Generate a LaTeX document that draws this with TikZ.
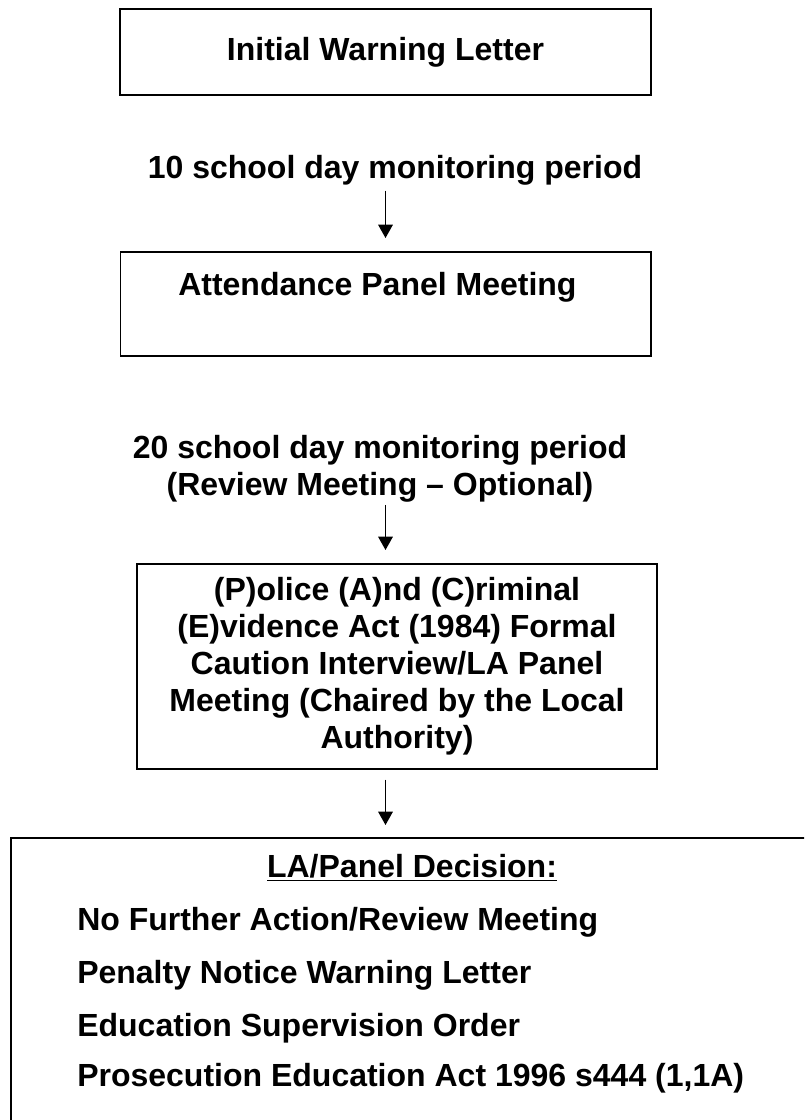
\documentclass[tikz,border=0pt]{standalone}
\usepackage{fontspec}
\setmainfont{Liberation Sans}
\usetikzlibrary{arrows.meta}

\begin{document}
\begin{tikzpicture}[x=0.75pt,y=-0.75pt]
	\tikzset{flowbox/.style={rectangle, draw, line width=1pt, inner sep=0pt}}
	\tikzset{flowtext/.style={inner sep=0pt, font=\fontsize{24}{27.75}\selectfont\bfseries}}
	\tikzset{flowarrow/.style={line width=0.8pt, -{Triangle[length=10pt, width=11pt]}}}

	\useasboundingbox (0,0) rectangle (804,1120);
	\clip (0,0) rectangle (804,1120);

	% boxes
	\node[flowbox, flowtext, line width=1.7pt, minimum width=398pt, minimum height=64.5pt] (b1) at (385.5,52) {Initial Warning Letter};
	\node[flowbox, minimum width=398pt, minimum height=78pt] (b2) at (385.5,304) {};
	\node[flowbox, flowtext, align=center, minimum width=390pt, minimum height=153.75pt] (b3) at (397,666.5)
		{(P)olice (A)nd (C)riminal\\(E)vidence Act (1984) Formal\\Caution Interview/LA Panel\\Meeting (Chaired by the Local\\Authority)};
	\node[flowbox, line width=1.5pt, anchor=north west, minimum width=620pt, minimum height=230pt] (b4) at (10,837) {};

	% texts
	\node[flowtext] (t1) at (395,170) {10 school day monitoring period};
	\node[flowtext, anchor=west] (t2) at (178,287) {Attendance Panel Meeting};
	\node[flowtext, align=center] (t3) at (380,468.5) {20 school day monitoring period\\(Review Meeting – Optional)};

	\node[flowtext] (d0) at (412,868) {\underline{LA/Panel Decision:}};
	\node[flowtext, anchor=west] (d1) at (77,922) {No Further Action/Review Meeting};
	\node[flowtext, anchor=west] (d2) at (77,975) {Penalty Notice Warning Letter};
	\node[flowtext, anchor=west] (d3) at (77,1028) {Education Supervision Order};
	\node[flowtext, anchor=west] (d4) at (77,1078) {Prosecution Education Act 1996 s444 (1,1A)};

	% arrows
	\draw[flowarrow, shorten <=4pt, shorten >=10pt] (t1.south -| b2.north) -- (b2.north);
	\draw[flowarrow, shorten <=2pt, shorten >=10pt] (t3.south -| b2.north) -- (b3.north -| b2.north);
	\draw[flowarrow, shorten <=7.5pt, shorten >=9pt] (b3.south -| b2.north) -- (b4.north -| b2.north);
\end{tikzpicture}
\end{document}
